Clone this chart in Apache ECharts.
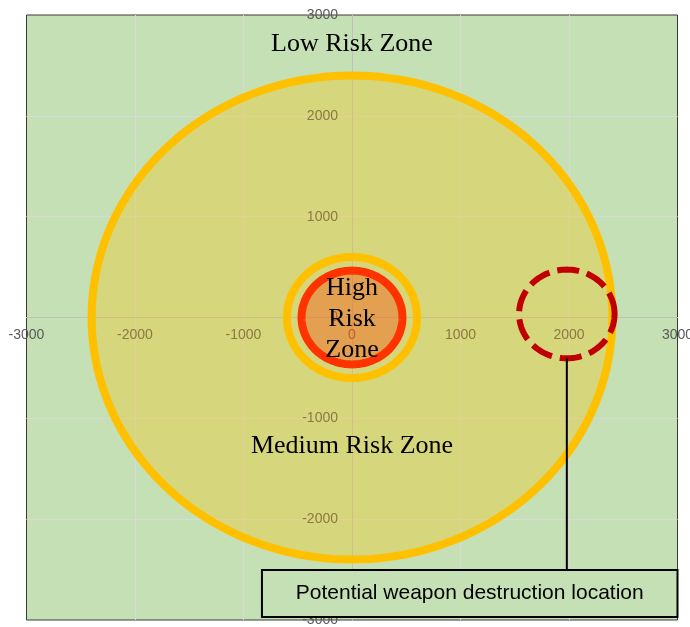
<!DOCTYPE html>
<html>
<head>
<meta charset="utf-8">
<script src="https://cdn.jsdelivr.net/npm/echarts@6/dist/echarts.min.js"></script>
<style>
  html, body { margin: 0; padding: 0; background: #fff; }
  #chart { width: 690px; height: 627px; }
</style>
</head>
<body>
<div id="chart"></div>
<script>
// zones: centre and radius in axis units
const zoneNames = ['Medium Risk Zone', 'High Risk buffer', 'High Risk Zone', 'Weapon destruction location'];
const zoneX = [0, 0, 0, 1980];
const zoneY = [0, 0, 0, 35];
const zoneR = [2400, 600, 465, 440];

// zone captions
const captions = ['Low Risk Zone', 'Medium Risk Zone', 'High\nRisk\nZone'];
const captionX = [0, 0, 0];
const captionY = [2730, -1255, 0];

const noteText = 'Potential weapon destruction location';

// axis range
const axisMin = -3000;
const axisMax = 3000;
const axisStep = 1000;

// look of each zone (same order as zoneNames)
const zoneStyle = [
  { fill: 'rgba(255,192,0,0.3)', stroke: '#FFC000', width: 8, dash: null },
  { fill: 'none', stroke: '#FFC000', width: 8, dash: null },
  { fill: 'rgba(255,60,0,0.35)', stroke: '#FF3300', width: 8, dash: null },
  { fill: 'none', stroke: '#C00000', width: 6, dash: [22, 8] }
];

const W = 690, H = 627;
const gridBox = { left: 26.5, right: 12.5, top: 15, bottom: 7 };
// axes cross at 0, so shift each axis from its edge to the middle of the range
const zeroFrac = (0 - axisMin) / (axisMax - axisMin);
const yAxisShift = -(W - gridBox.left - gridBox.right) * zeroFrac;
const xAxisShift = -(H - gridBox.top - gridBox.bottom) * zeroFrac;

const chart = echarts.init(document.getElementById('chart'));

const axisCommon = {
  type: 'value',
  min: axisMin,
  max: axisMax,
  interval: axisStep,
  axisLine: { onZero: false, lineStyle: { color: '#BFBFBF', width: 1 } },
  axisTick: { show: false },
  splitLine: { showMinLine: false, showMaxLine: false, lineStyle: { color: '#D9D9D9', width: 1 } },
  axisLabel: {
    color: '#595959',
    fontSize: 14,
    fontFamily: 'Liberation Sans, Arial, sans-serif',
    showMinLabel: true,
    showMaxLabel: true,
    formatter: (v) => String(v)
  }
};

const option = {
  animation: false,
  backgroundColor: '#ffffff',
  grid: Object.assign({}, gridBox, {
    show: true,
    containLabel: false,
    outerBoundsMode: 'none',
    backgroundColor: '#C5E0B4',
    borderColor: '#3A3A3A',
    borderWidth: 1
  }),
  xAxis: Object.assign({}, axisCommon, {
    position: 'bottom',
    offset: xAxisShift,
    axisLabel: Object.assign({}, axisCommon.axisLabel, { margin: 11 })
  }),
  yAxis: Object.assign({}, axisCommon, {
    position: 'left',
    offset: yAxisShift,
    axisLabel: Object.assign({}, axisCommon.axisLabel, { margin: 14 })
  }),
  series: [
    {
      // the zone circles
      name: 'zones',
      type: 'custom',
      z: 3,
      data: zoneX.map((x, i) => [x, zoneY[i], zoneR[i]]),
      renderItem: (params, api) => {
        const cx = api.value(0), cy = api.value(1), r = api.value(2);
        const st = zoneStyle[params.dataIndex];
        const pts = [];
        for (let k = 0; k <= 180; k++) {
          const a = k / 180 * Math.PI * 2;
          pts.push(api.coord([cx + r * Math.cos(a), cy + r * Math.sin(a)]));
        }
        return {
          type: 'polygon',
          shape: { points: pts },
          style: {
            fill: st.fill,
            stroke: st.stroke,
            lineWidth: st.width,
            lineDash: st.dash
          }
        };
      }
    },
    {
      // zone captions
      name: 'captions',
      type: 'custom',
      z: 4,
      data: captionX.map((x, i) => [x, captionY[i]]),
      renderItem: (params, api) => {
        const p = api.coord([api.value(0), api.value(1)]);
        return {
          type: 'text',
          x: p[0],
          y: p[1] + 2,
          style: {
            text: captions[params.dataIndex],
            fill: '#000',
            font: '26px "Liberation Serif", "Times New Roman", serif',
            align: 'center',
            verticalAlign: 'middle',
            lineHeight: 31
          }
        };
      }
    },
    {
      // callout for the destruction location
      name: 'note',
      type: 'custom',
      z: 5,
      data: [[zoneX[3], zoneY[3] - zoneR[3]]],
      renderItem: (params, api) => {
        const top = api.coord([api.value(0), api.value(1)]);
        const boxA = api.coord([-830, -2505]);
        const boxB = api.coord([3000, -2971]);
        return {
          type: 'group',
          children: [
            {
              type: 'line',
              shape: { x1: top[0], y1: top[1], x2: top[0], y2: boxA[1] },
              style: { stroke: '#000', lineWidth: 2 }
            },
            {
              type: 'rect',
              shape: { x: boxA[0], y: boxA[1], width: boxB[0] - boxA[0], height: boxB[1] - boxA[1] },
              style: { fill: '#C5E0B4', stroke: '#000', lineWidth: 2 }
            },
            {
              type: 'text',
              x: (boxA[0] + boxB[0]) / 2,
              y: (boxA[1] + boxB[1]) / 2,
              style: {
                text: noteText,
                fill: '#000',
                font: '21px "Liberation Sans", Arial, sans-serif',
                align: 'center',
                verticalAlign: 'middle'
              }
            }
          ]
        };
      }
    }
  ]
};

chart.setOption(option);
</script>
</body>
</html>
